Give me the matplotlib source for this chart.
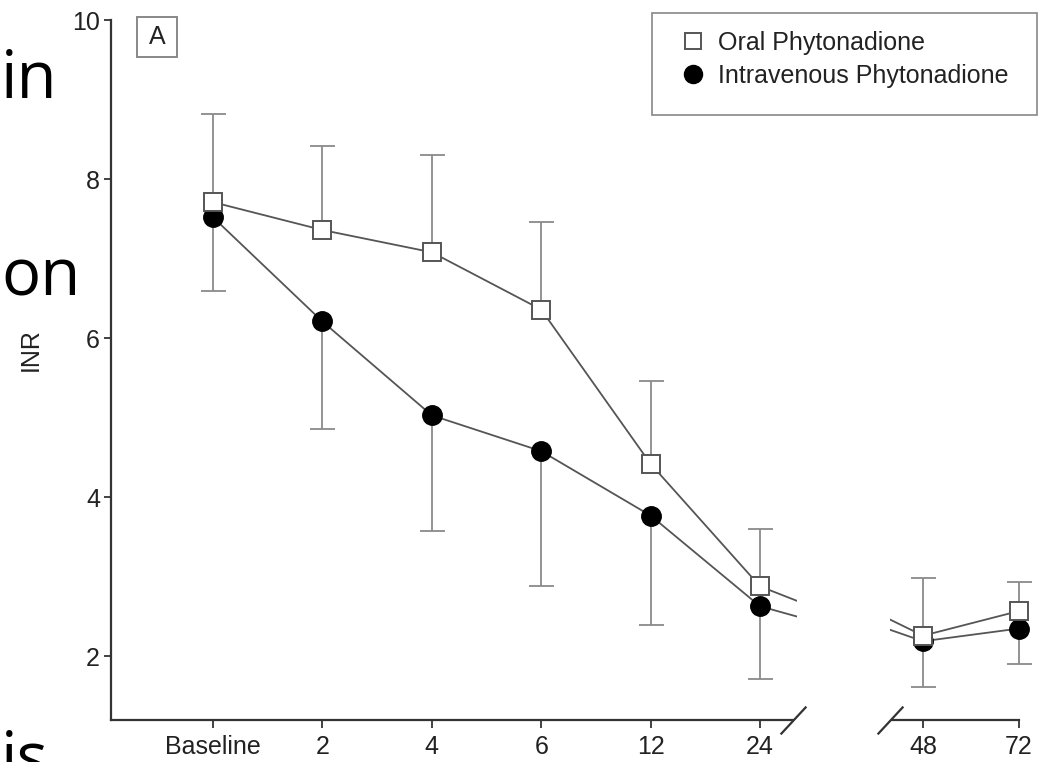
"""INR over time after oral vs intravenous phytonadione, with a broken time axis."""

import matplotlib

matplotlib.use("Agg")
import matplotlib.pyplot as plt
import numpy as np
from matplotlib.lines import Line2D
from matplotlib.patches import Rectangle

# ── DATA ──────────────────────────────────────────────────────────────────────
TIME_LABELS = ["Baseline", "2", "4", "6", "12", "24", "48", "72"]
ORAL_MEAN = [7.71, 7.36, 7.08, 6.36, 4.42, 2.88, 2.26, 2.57]
ORAL_UPPER = [8.82, 8.42, 8.30, 7.46, 5.46, 3.60, 2.99, 2.93]
IV_MEAN = [7.52, 6.21, 5.03, 4.58, 3.77, 2.63, 2.19, 2.35]
IV_LOWER = [6.59, 4.86, 3.58, 2.89, 2.39, 1.71, 1.62, 1.91]
Y_TICKS = [2, 4, 6, 8, 10]
SERIES_LABELS = ["Oral Phytonadione", "Intravenous Phytonadione"]
PANEL_LABEL = "A"
SLIDE_WORDS = ["in", "on", "is"]
# ─────────────────────────────────────────────────────────────────────────────

plt.rcParams["font.family"] = ["Liberation Sans", "DejaVu Sans"]

W, H = 1046, 762
LINE_C = "#555555"
ERR_C = "#8a8a8a"
SPINE_C = "#333333"
TEXT_C = "#222222"
FS = 18

n_before = 6  # points before the axis break
idx = np.arange(len(TIME_LABELS))
GAP_LEFT, GAP_RIGHT = 1.15, 1.05
x_left = np.where(idx < n_before, idx, idx - 1 + GAP_LEFT).astype(float)
x_right = np.where(idx < n_before, idx - (n_before - 1) - GAP_RIGHT, idx - n_before).astype(float)

oral = np.array(ORAL_MEAN)
oral_hi = np.array(ORAL_UPPER)
iv = np.array(IV_MEAN)
iv_lo = np.array(IV_LOWER)


def fx(px):
    return px / W


def fy(py):
    return 1 - py / H


fig = plt.figure(figsize=(W / 100, H / 100), dpi=100)
ax_l = fig.add_axes([fx(111), fy(720), fx(797 - 111), (720 - 20) / H])
ax_r = fig.add_axes([fx(890), fy(720), fx(1019 - 890), (720 - 20) / H], sharey=ax_l)


def draw(ax, x, v):
    ax.plot(x, oral, color=LINE_C, lw=1.3, zorder=2)
    ax.plot(x, iv, color=LINE_C, lw=1.3, zorder=2)
    # one-sided error bars: oral upward, intravenous downward
    for start, end in ((oral, oral_hi), (iv, iv_lo)):
        ax.vlines(x[v], start[v], end[v], color=ERR_C, lw=1.3, zorder=1.5, clip_on=False)
        ax.plot(x[v], end[v], ls="none", marker="_", ms=18, mew=1.3, color=ERR_C,
                clip_on=False, zorder=1.5)
    ax.plot(x[v], iv[v], "o", ms=14, mfc="black", mec="black", clip_on=False, zorder=3)
    ax.plot(x[v], oral[v], "s", ms=13, mfc="white", mec=LINE_C, mew=1.4,
            clip_on=False, zorder=4)


draw(ax_l, x_left, idx < n_before)
draw(ax_r, x_right, idx >= n_before)

ax_l.set_ylim(1.2, 10)
ax_l.set_xlim((111 - 213) / 109.4, (797 - 213) / 109.4)
ax_r.set_xlim(-0.344, 1.0)

for ax in (ax_l, ax_r):
    for side in ("top", "right"):
        ax.spines[side].set_visible(False)
    ax.spines["bottom"].set_color(SPINE_C)
    ax.spines["bottom"].set_linewidth(1.6)
    ax.tick_params(axis="x", length=6, width=1.3, color=SPINE_C, pad=5,
                   labelsize=FS, labelcolor=TEXT_C)
    ax.patch.set_visible(False)

ax_l.spines["left"].set_color(SPINE_C)
ax_l.spines["left"].set_linewidth(1.6)
ax_l.spines["bottom"].set_bounds(ax_l.get_xlim()[0], (793 - 213) / 109.4)
ax_l.set_yticks(Y_TICKS)
ax_l.tick_params(axis="y", length=5, width=1.3, color=SPINE_C, pad=3,
                 labelsize=FS, labelcolor=TEXT_C)
ax_l.set_xticks(x_left[:n_before], TIME_LABELS[:n_before])

ax_r.spines["left"].set_visible(False)
ax_r.spines["bottom"].set_bounds(-0.323, 1.0)
ax_r.tick_params(axis="y", left=False, labelleft=False)
ax_r.set_xticks(x_right[n_before:], TIME_LABELS[n_before:])

# break marks
slash = [(-1, -1.08), (1, 1.08)]
ax_l.plot([(793 - 111) / 686], [0], transform=ax_l.transAxes, marker=slash, ms=20,
          mew=1.6, color=SPINE_C, clip_on=False, zorder=5)
ax_r.plot([0], [0], transform=ax_r.transAxes, marker=slash, ms=20,
          mew=1.6, color=SPINE_C, clip_on=False, zorder=5)

fig.text(fx(31), fy(350), "INR", rotation=90, ha="center", va="center",
         fontsize=FS, color=TEXT_C)

# panel label
fig.patches.append(Rectangle((fx(137), fy(57)), fx(40), 40 / H, transform=fig.transFigure,
                             fill=False, ec="#888888", lw=1.4))
fig.text(fx(157), fy(37), PANEL_LABEL, ha="center", va="center", fontsize=FS, color=TEXT_C)

# legend
handles = [
    Line2D([], [], ls="none", marker="s", ms=12, mfc="white", mec=LINE_C, mew=1.4),
    Line2D([], [], ls="none", marker="o", ms=13, mfc="black", mec="black"),
]
fig.legend(handles, SERIES_LABELS, loc="upper left", bbox_to_anchor=(fx(680), fy(31)),
           frameon=False, fontsize=FS, borderpad=0, borderaxespad=0, handlelength=1.0,
           handletextpad=0.5, labelspacing=0.35, labelcolor=TEXT_C)
fig.patches.append(Rectangle((fx(652), fy(115)), fx(385), 102 / H, transform=fig.transFigure,
                             fill=False, ec="#888888", lw=1.2))

# cropped slide text on the left
for word, base in zip(SLIDE_WORDS, (98, 295, 778)):
    fig.text(fx(1), fy(base), word, fontsize=47, family="Open Sans", color="black",
             va="baseline", ha="left")

fig.savefig("out.png", dpi=100)
